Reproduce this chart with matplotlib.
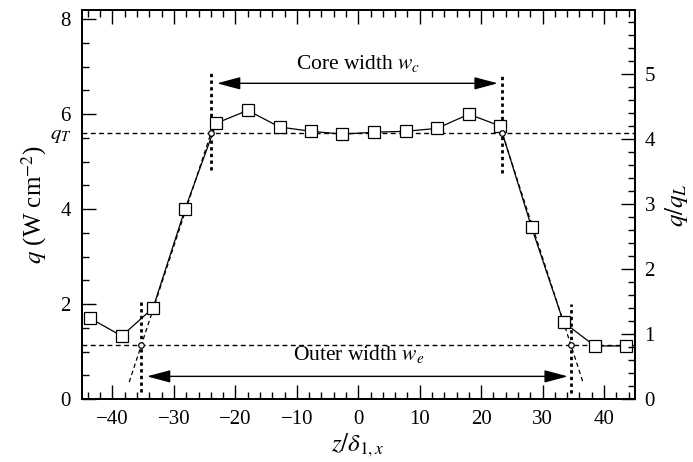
import matplotlib
matplotlib.use('Agg')
import matplotlib.pyplot as plt
import numpy as np
from matplotlib.ticker import MultipleLocator
from matplotlib.transforms import blended_transform_factory

plt.rcParams['font.family'] = ['Liberation Serif', 'DejaVu Serif']
plt.rcParams['mathtext.fontset'] = 'stix'

# measured heat flux profile
z = [-43.6, -38.5, -33.4, -28.2, -23.1, -18.0, -12.8, -7.7, -2.6,
     2.6, 7.7, 12.8, 18.0, 23.1, 28.2, 33.4, 38.5, 43.6]
q = [1.70, 1.33, 1.92, 4.00, 5.81, 6.08, 5.73, 5.64, 5.58,
     5.62, 5.64, 5.70, 6.00, 5.75, 3.62, 1.62, 1.12, 1.12]

# threshold levels and where the edge fits cross them
q_T = 5.61
q_e = 1.14
q_L = 1.368
core_edges = [-23.95, 23.4]
outer_edges = [-35.3, 34.6]
fit_bottom = [0.36, 0.38]   # lower end of the dashed edge fits

fig = plt.figure(figsize=(6.93, 4.62), dpi=100)
ax = fig.add_axes([0.118, 0.136, 0.798, 0.842])

ax.plot(z, q, '-', color='black', lw=0.9, marker='s', ms=8.5,
        mfc='white', mec='black', mew=0.9, zorder=3)

# threshold lines
ax.axhline(q_T, color='black', lw=1.0, ls=(0, (3.5, 2.5)), zorder=1)
ax.axhline(q_e, color='black', lw=1.0, ls=(0, (3.5, 2.5)), zorder=1)

# dashed linear fits of the two flanks
for i in range(2):
    slope = (q_T - q_e) / (core_edges[i] - outer_edges[i])
    zb = outer_edges[i] + (fit_bottom[i] - q_e) / slope
    ax.plot([zb, core_edges[i]], [fit_bottom[i], q_T], color='black',
            lw=0.9, ls=(0, (3.5, 2.5)), zorder=2)

# crossing points
ax.plot(core_edges, [q_T, q_T], 'o', ms=4, mfc='white', mec='black', mew=0.9, zorder=4)
ax.plot(outer_edges, [q_e, q_e], 'o', ms=4, mfc='white', mec='black', mew=0.9, zorder=4)

# vertical dotted markers
dot = (0, (1.2, 1.2))
ax.plot([core_edges[0]] * 2, [4.82, 6.93], color='black', lw=2, ls=dot)
ax.plot([core_edges[1]] * 2, [4.76, 6.84], color='black', lw=2, ls=dot)
ax.plot([outer_edges[0]] * 2, [0.15, 2.08], color='black', lw=2, ls=dot)
ax.plot([outer_edges[1]] * 2, [0.13, 2.00], color='black', lw=2, ls=dot)

# width arrows
arrow = dict(arrowstyle='<|-|>,head_length=1.2,head_width=0.32',
             color='black', lw=1.0, mutation_scale=12, shrinkA=0, shrinkB=0)
ax.annotate('', xy=(-23.0, 6.65), xytext=(22.7, 6.65), arrowprops=arrow)
ax.annotate('', xy=(-34.4, 0.48), xytext=(34.1, 0.48), arrowprops=arrow)
ax.text(0, 7.07, r'Core width $w_c$', ha='center', va='center', fontsize=15.5)
ax.text(0, 0.93, r'Outer width $w_e$', ha='center', va='center', fontsize=15.5)

trans = blended_transform_factory(ax.transAxes, ax.transData)
ax.text(-0.018, q_T - 0.05, r'$q_T$', transform=trans, ha='right', va='center', fontsize=15)

ax.set_xlim(-45, 45)
ax.set_ylim(0, 8.19)
ax.xaxis.set_major_locator(MultipleLocator(10))
ax.xaxis.set_minor_locator(MultipleLocator(2))
ax.yaxis.set_major_locator(MultipleLocator(2))
ax.yaxis.set_minor_locator(MultipleLocator(0.5))
ax.tick_params(which='both', direction='in', top=True, right=False,
               labelsize=15, width=1.0)
ax.tick_params(which='major', length=10, pad=8)
ax.tick_params(which='minor', length=5)
for s in ax.spines.values():
    s.set_linewidth(1.4)

ax.set_xlabel(r'$z/\delta_{1,x}$', fontsize=18, labelpad=2)
ax.set_ylabel(r'$q$ (W cm$^{-2}$)', fontsize=18, labelpad=8)

ax2 = ax.twinx()
ax2.set_ylim(0, 8.19 / q_L)
ax2.yaxis.set_major_locator(MultipleLocator(1))
ax2.yaxis.set_minor_locator(MultipleLocator(0.2))
ax2.tick_params(which='both', direction='in', labelsize=15, width=1.0)
ax2.tick_params(which='major', length=10, pad=7)
ax2.tick_params(which='minor', length=5)
for s in ax2.spines.values():
    s.set_linewidth(1.4)
ax2.set_ylabel(r'$q/q_L$', fontsize=18, labelpad=6)

fig.savefig('out.png', dpi=100)
